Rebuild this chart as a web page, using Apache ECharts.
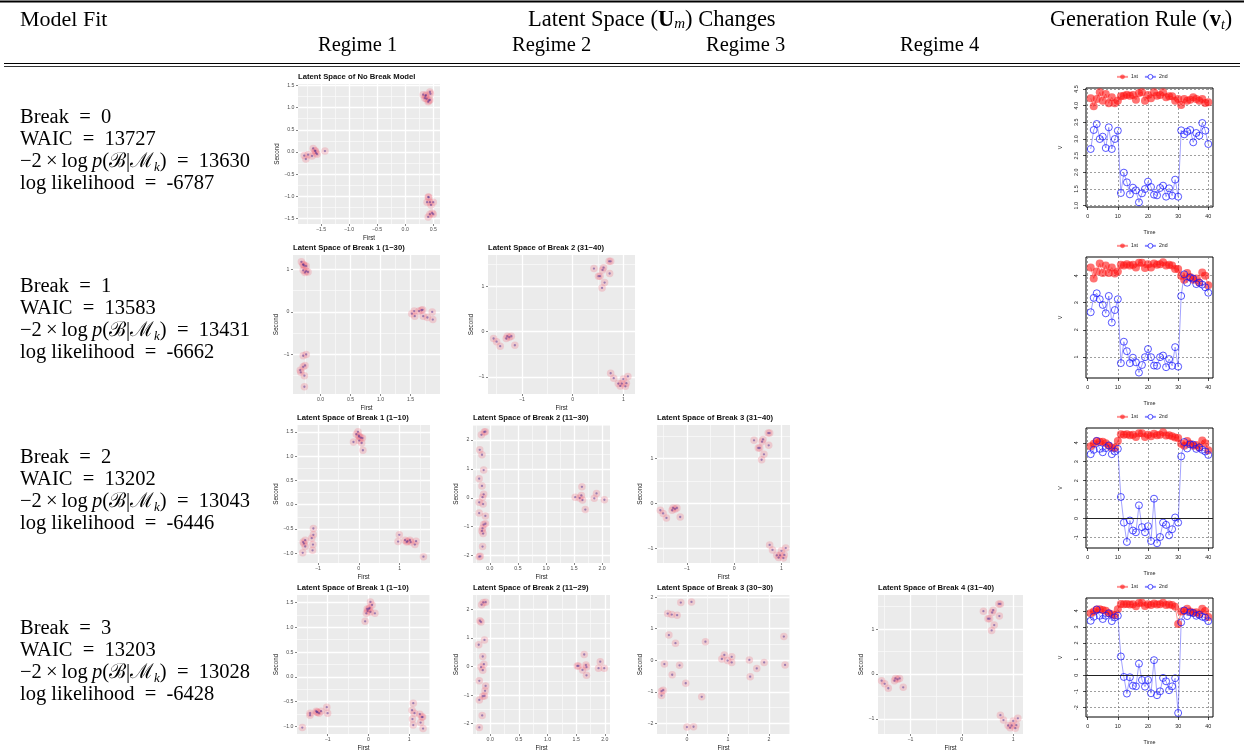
<!DOCTYPE html>
<html><head><meta charset="utf-8">
<script src="https://cdn.jsdelivr.net/npm/echarts@6/dist/echarts.min.js"></script>
<style>html,body{margin:0;padding:0;background:#fff}#c{width:1244px;height:752px}</style>
</head><body><div id="c"></div>
<script>
// ================= DATA =================
const time = [1,2,3,4,5,6,7,8,9,10,11,12,13,14,15,16,17,18,19,20,21,22,23,24,25,26,27,28,29,30,31,32,33,34,35,36,37,38,39,40];

// Generation rule (v_t), one pair of series per model
const rule0_first  = [4.22,3.98,4.2,4.4,4.15,4.35,4.07,4.25,4.07,4.15,4.28,4.3,4.33,4.3,4.32,4.18,4.38,4.4,4.15,4.32,4.22,4.4,4.3,4.32,4.4,4.25,4.28,4.28,4.15,4.2,4.02,4.2,4.15,4.18,4.25,4.2,4.15,4.2,4.08,4.1];
const rule0_second = [2.7,3.27,3.45,3.0,3.07,2.73,3.35,2.7,3.0,3.25,1.38,1.99,1.7,1.34,1.54,1.46,1.1,1.37,1.5,1.72,1.56,1.33,1.31,1.53,1.6,1.27,1.52,1.3,1.78,1.27,3.26,3.14,3.22,3.27,2.9,3.18,3.1,3.48,3.25,2.85];
const rule1_first  = [4.3,3.9,4.15,4.45,4.1,4.38,4.1,4.3,4.08,4.15,4.4,4.38,4.42,4.38,4.4,4.3,4.48,4.48,4.28,4.42,4.3,4.45,4.4,4.42,4.5,4.38,4.4,4.38,4.25,4.25,4.0,3.85,4.1,3.95,3.85,3.9,3.75,4.12,4.0,3.65];
const rule1_second = [2.65,3.18,3.35,3.13,2.92,2.61,3.25,2.27,2.73,3.13,0.77,1.56,1.21,0.77,0.97,0.8,0.42,0.7,0.99,1.29,0.99,0.68,0.67,0.99,1.05,0.62,0.92,0.67,1.36,0.64,3.25,4.05,3.74,3.93,3.89,3.69,3.74,3.67,3.57,3.37];
const rule2_first  = [3.82,3.95,4.1,4.05,4.05,3.98,3.85,3.75,3.72,4.1,4.45,4.42,4.45,4.4,4.42,4.3,4.5,4.5,4.3,4.42,4.35,4.48,4.4,4.42,4.55,4.38,4.4,4.35,4.28,4.25,3.95,3.85,4.1,3.95,3.85,3.88,3.75,4.12,3.98,3.6];
const rule2_second = [3.4,3.63,4.1,3.68,3.5,3.72,3.86,3.4,3.54,3.68,1.14,-0.21,-1.23,-0.1,-0.63,-0.72,0.7,-0.45,-0.72,-0.4,-1.18,1.05,-1.3,-0.97,-0.21,-0.33,-0.88,-0.56,0.06,-0.21,3.28,4.04,3.7,3.91,3.9,3.68,3.75,3.63,3.54,3.36];
const rule3_first  = [3.85,3.95,4.08,4.1,4.05,4.0,3.85,3.78,3.72,4.1,4.42,4.4,4.42,4.38,4.4,4.28,4.48,4.5,4.3,4.4,4.35,4.45,4.38,4.4,4.5,4.35,4.38,4.35,4.25,3.18,3.95,3.98,4.12,3.95,3.88,3.9,3.78,4.12,3.98,3.62];
const rule3_second = [3.38,3.63,4.08,3.69,3.49,3.69,3.84,3.36,3.59,3.69,1.17,-0.1,-1.13,-0.12,-0.64,-0.68,0.72,-0.29,-0.7,-0.29,-1.11,0.94,-1.23,-0.99,-0.16,-0.37,-0.92,-0.68,-0.18,-2.33,3.28,4.02,3.67,3.9,3.86,3.69,3.75,3.63,3.57,3.36];

// Latent space positions [First, Second]
const ls_nobreak = [[0.32,1.29],[0.36,1.26],[0.38,1.2],[0.35,1.21],[0.41,1.13],[0.44,1.17],[0.44,1.35],[0.45,1.31],[0.37,1.28],[0.42,1.16],
  [-1.8,-0.08],[-1.77,-0.16],[-1.73,-0.06],[-1.66,-0.09],[-1.64,0.08],[-1.61,0.03],[-1.59,-0.02],[-1.57,-0.05],[-1.6,0.02],[-1.43,0.02],
  [0.41,-1.01],[0.39,-1.13],[0.44,-1.13],[0.46,-1.19],[0.5,-1.13],[0.48,-1.37],[0.44,-1.4],[0.5,-1.4],[0.41,-1.46],[0.42,-1.02]];
const ls_b1_1_30 = [[-0.32,1.18],[-0.29,1.11],[-0.27,1.09],[-0.24,1.08],[-0.29,0.98],[-0.24,0.96],[-0.21,0.94],[-0.26,0.93],[-0.29,1.12],
  [-0.29,-1.03],[-0.24,-1.0],[-0.26,-1.26],[-0.29,-1.29],[-0.34,-1.37],[-0.33,-1.42],[-0.27,-1.5],[-0.27,-1.76],
  [1.52,-0.04],[1.56,0.02],[1.57,-0.1],[1.64,0.02],[1.68,0.04],[1.71,-0.1],[1.78,-0.13],[1.86,0],[1.87,-0.18],[1.7,0.05]];
const ls_31_40 = [[0.42,1.40],[0.51,1.23],[0.54,1.23],[0.59,1.37],[0.61,1.42],[0.72,1.56],[0.75,1.56],[0.73,1.29],[0.63,1.09],[0.58,0.97],
  [-1.56,-0.15],[-1.5,-0.22],[-1.43,-0.32],[-1.31,-0.15],[-1.29,-0.1],[-1.25,-0.12],[-1.21,-0.1],[-1.14,-0.3],
  [0.75,-0.92],[0.81,-1.03],[0.9,-1.15],[0.94,-1.2],[0.97,-1.15],[1.0,-1.05],[1.04,-1.21],[1.06,-1.14],[1.09,-0.99]];
const ls_b2_1_10 = [[-0.13,1.29],[-0.06,1.45],[-0.02,1.5],[0.01,1.4],[0.05,1.38],[0.09,1.37],[0.07,1.27],[0.01,1.32],[0.1,1.12],[0,1.42],
  [-1.37,-0.99],[-1.36,-0.77],[-1.31,-0.73],[-1.31,-0.86],[-1.15,-0.69],[-1.11,-0.49],[-1.11,-0.62],[-1.12,-0.82],[-1.13,-0.94],[-1.34,-0.8],
  [0.96,-0.76],[0.99,-0.62],[1.13,-0.73],[1.17,-0.77],[1.25,-0.73],[1.27,-0.77],[1.37,-0.82],[1.4,-0.75],[1.58,-1.07],[1.19,-0.75]];
const ls_b2_11_30 = [[-0.15,2.18],[-0.1,2.28],[-0.08,2.29],[-0.18,1.66],[-0.14,1.49],[-0.11,0.96],[-0.19,0.66],[-0.14,0.41],[-0.11,0.12],[-0.13,0.02],[-0.19,-0.16],
  [-0.12,-0.22],[-0.19,-0.53],[-0.08,-0.63],[-0.08,-0.9],[-0.11,-0.93],[-0.13,-1.06],[-0.14,-1.15],[-0.12,-1.24],[-0.13,-1.69],[-0.19,-2.04],[-0.17,-2.03],
  [1.52,0.02],[1.6,-0.01],[1.63,0.08],[1.64,0.38],[1.65,-0.08],[1.7,-0.41],[1.86,-0.02],[1.9,0.15],[2.04,-0.07]];
const ls_b3_1_10 = [[0.05,1.51],[0.09,1.45],[-0.03,1.37],[0.01,1.37],[0.03,1.39],[-0.05,1.28],[0.05,1.31],[0.16,1.28],[-0.08,1.12],[-0.02,1.33],
  [-1.62,-1.02],[-1.43,-0.73],[-1.43,-0.77],[-1.28,-0.69],[-1.25,-0.71],[-1.21,-0.73],[-1.16,-0.69],[-1.02,-0.61],[-1.0,-0.73],[-1.26,-0.71],
  [1.1,-0.53],[1.07,-0.67],[1.13,-0.73],[1.08,-0.85],[1.1,-0.97],[1.26,-0.75],[1.31,-0.81],[1.28,-0.92],[1.34,-1.04],[1.33,-0.81]];
const ls_b3_11_29 = [[-0.15,2.16],[-0.12,2.24],[-0.08,2.25],[-0.18,1.6],[-0.16,1.56],[-0.1,0.93],[-0.2,0.76],[-0.13,0.35],[-0.11,0.08],[-0.16,-0.02],
  [-0.13,-0.13],[-0.19,-0.5],[-0.08,-0.68],[-0.09,-0.85],[-0.1,-1.03],[-0.13,-1.04],[-0.19,-1.17],[-0.14,-1.71],[-0.19,-2.13],
  [1.52,0.02],[1.54,0.02],[1.61,-0.12],[1.64,0.42],[1.67,0.05],[1.68,-0.02],[1.68,-0.31],[1.89,-0.06],[1.92,0.17],[1.99,-0.06]];
const ls_b3_30_30 = [[-0.15,1.83],[0.11,1.85],[-0.47,1.48],[-0.37,1.45],[-0.24,1.43],[-0.44,0.8],[-0.28,0.54],[0.45,0.59],[-0.55,-0.12],[-0.18,-0.16],
  [-0.36,-0.46],[-0.03,-0.73],[-0.62,-0.98],[-0.58,-0.95],[-0.62,-1.12],[0.36,-1.16],[0,-2.12],[0.16,-2.11],[0.85,0.04],[0.91,0.17],
  [0.99,-0.01],[1.09,0.11],[1.09,-0.07],[1.52,0.01],[1.54,-0.52],[1.7,-0.26],[1.88,-0.07],[2.36,0.75],[2.39,-0.15]];

// Model fit statistics
const breaks = [0,1,2,3];
const waic = [13727,13583,13202,13203];
const margLik = [13630,13431,13043,13028];
const logLik = [-6787,-6662,-6446,-6428];

// Header labels
const regimeLabels = ['Regime 1','Regime 2','Regime 3','Regime 4'];

// Tick labels
const ticks_nb_x = [-1.5,-1.0,-0.5,0.0,0.5];
const ticks_nb_y = [-1.5,-1.0,-0.5,0.0,0.5,1.0,1.5];
const ticks_b1_x = [0.0,0.5,1.0,1.5];
const ticks_b1_y = [-1,0,1];
const ticks_int3 = [-1,0,1];
const ticks_half_y = [-1.0,-0.5,0.0,0.5,1.0,1.5];
const ticks_half_x = [0.0,0.5,1.0,1.5,2.0];
const ticks_int5 = [-2,-1,0,1,2];
const ticks_30_x = [0,1,2];
const rule_xticks = [0,10,20,30,40];
const rule0_yticks = [1.0,1.5,2.0,2.5,3.0,3.5,4.0,4.5];
const rule1_yticks = [1,2,3,4];
const rule2_yticks = [-1,0,1,2,3,4];
const rule3_yticks = [-2,-1,0,1,2,3,4];

// ================= LAYOUT / STYLE =================
const SERIF = "'Liberation Serif','DejaVu Serif',serif";
const SANS = "'Liberation Sans',Arial,sans-serif";

const panels = [
 {title:'Latent Space of No Break Model', data:ls_nobreak, l:298,t:84,w:142,h:140, xr:[-1.91,0.62], yr:[-1.62,1.53], xt:ticks_nb_x, yt:ticks_nb_y, xd:1, yd:1},
 {title:'Latent Space of Break 1 (1\u221230)', data:ls_b1_1_30, l:293,t:255,w:147,h:139, xr:[-0.46,1.99], yr:[-1.93,1.34], xt:ticks_b1_x, yt:ticks_b1_y, xd:1, yd:0},
 {title:'Latent Space of Break 2 (31\u221240)', data:ls_31_40, l:488,t:255,w:147,h:139, xr:[-1.67,1.23], yr:[-1.38,1.70], xt:ticks_int3, yt:ticks_int3, xd:0, yd:0},
 {title:'Latent Space of Break 1 (1\u221210)', data:ls_b2_1_10, l:297,t:425,w:133,h:138, xr:[-1.51,1.74], yr:[-1.2,1.64], xt:ticks_int3, yt:ticks_half_y, xd:0, yd:1},
 {title:'Latent Space of Break 2 (11\u221230)', data:ls_b2_11_30, l:473,t:425,w:137,h:138, xr:[-0.30,2.14], yr:[-2.26,2.52], xt:ticks_half_x, yt:ticks_int5, xd:1, yd:0},
 {title:'Latent Space of Break 3 (31\u221240)', data:ls_31_40, l:657,t:425,w:133,h:138, xr:[-1.63,1.18], yr:[-1.32,1.74], xt:ticks_int3, yt:ticks_int3, xd:0, yd:0},
 {title:'Latent Space of Break 1 (1\u221210)', data:ls_b3_1_10, l:297,t:595,w:133,h:139, xr:[-1.75,1.51], yr:[-1.15,1.65], xt:ticks_int3, yt:ticks_half_y, xd:0, yd:1},
 {title:'Latent Space of Break 2 (11\u221229)', data:ls_b3_11_29, l:473,t:595,w:137,h:139, xr:[-0.30,2.09], yr:[-2.36,2.5], xt:ticks_half_x, yt:ticks_int5, xd:1, yd:0},
 {title:'Latent Space of Break 3 (30\u221230)', data:ls_b3_30_30, l:657,t:595,w:133,h:139, xr:[-0.73,2.51], yr:[-2.34,2.07], xt:ticks_30_x, yt:ticks_int5, xd:0, yd:0},
 {title:'Latent Space of Break 4 (31\u221240)', data:ls_31_40, l:878,t:595,w:145,h:139, xr:[-1.63,1.19], yr:[-1.34,1.76], xt:ticks_int3, yt:ticks_int3, xd:0, yd:0}
];

const rules = [
 {t:88, h:119, yr:[0.96,4.53], yt:rule0_yticks, yd:1, f:rule0_first, s:rule0_second, zero:false},
 {t:257, h:121, yr:[0.22,4.69], yt:rule1_yticks, yd:0, f:rule1_first, s:rule1_second, zero:false},
 {t:428, h:120, yr:[-1.55,4.78], yt:rule2_yticks, yd:0, f:rule2_first, s:rule2_second, zero:true},
 {t:598, h:119, yr:[-2.58,4.79], yt:rule3_yticks, yd:0, f:rule3_first, s:rule3_second, zero:true}
];

const grids=[], xAxes=[], yAxes=[], series=[], titles=[], legends=[];

function fmtGG(dec){ return v => (v < -1e-9 ? '\u2212' : '') + Math.abs(v).toFixed(dec); }
function fmtR(dec){ return v => (v < -1e-9 ? '-' : '') + Math.abs(v).toFixed(dec); }
function minorsOf(major, lo, hi){
  const step = major[1]-major[0], out=[];
  for (let k=-4; k<major.length+4; k++){
    const v = +(major[0] + step*k + step/2).toFixed(4);
    if (v > lo && v < hi) out.push(v);
  }
  return out;
}

panels.forEach(p => {
  const gi = grids.length;
  grids.push({left:p.l, top:p.t, width:p.w, height:p.h, show:true, backgroundColor:'#EBEBEB', borderWidth:0, containLabel:false});
  const xi = xAxes.length, yi = yAxes.length;
  const common = {gridIndex:gi, type:'value', axisLine:{show:false, onZero:false}};
  xAxes.push(Object.assign({}, common, {min:p.xr[0], max:p.xr[1], position:'bottom',
    axisTick:{show:true, inside:false, length:2, lineStyle:{color:'#333', width:0.6}, customValues:p.xt},
    axisLabel:{customValues:p.xt, formatter:fmtGG(p.xd), fontSize:5.2, color:'#4D4D4D', margin:3.5, fontFamily:SANS},
    splitLine:{show:true, lineStyle:{color:'#FFFFFF', width:1.3}},
    name:'First', nameLocation:'middle', nameGap:11, nameTextStyle:{fontSize:6.3, color:'#222', fontFamily:SANS}}));
  xAxes.push(Object.assign({}, common, {min:p.xr[0], max:p.xr[1], position:'top',
    axisTick:{show:false, customValues:minorsOf(p.xt, p.xr[0], p.xr[1])}, axisLabel:{show:false},
    splitLine:{show:true, lineStyle:{color:'#FBFBFB', width:0.7}}}));
  yAxes.push(Object.assign({}, common, {min:p.yr[0], max:p.yr[1], position:'left',
    axisTick:{show:true, inside:false, length:2, lineStyle:{color:'#333', width:0.6}, customValues:p.yt},
    axisLabel:{customValues:p.yt, formatter:fmtGG(p.yd), fontSize:5.2, color:'#4D4D4D', margin:3.5, fontFamily:SANS},
    splitLine:{show:true, lineStyle:{color:'#FFFFFF', width:1.3}},
    name:'Second', nameLocation:'middle', nameGap:p.yd===1?16:12, nameRotate:90, nameTextStyle:{fontSize:6.3, color:'#222', fontFamily:SANS}}));
  yAxes.push(Object.assign({}, common, {min:p.yr[0], max:p.yr[1], position:'right',
    axisTick:{show:false, customValues:minorsOf(p.yt, p.yr[0], p.yr[1])}, axisLabel:{show:false},
    splitLine:{show:true, lineStyle:{color:'#FBFBFB', width:0.7}}}));
  series.push({type:'scatter', xAxisIndex:xi, yAxisIndex:yi, data:p.data, symbolSize:7.5, silent:true, z:2,
    itemStyle:{color:'rgba(238,105,125,0.33)'}});
  series.push({type:'scatter', xAxisIndex:xi, yAxisIndex:yi, data:p.data, symbolSize:2.3, silent:true, z:3,
    itemStyle:{color:'rgba(70,40,145,0.6)'}});
  titles.push({text:p.title, left:p.l, top:p.t-11, padding:0,
    textStyle:{fontSize:7.7, fontWeight:'bold', color:'#111', fontFamily:SANS}});
});

rules.forEach(r => {
  const gi = grids.length;
  grids.push({left:1086, top:r.t, width:127, height:r.h, show:true, borderColor:'#000', borderWidth:1, backgroundColor:'transparent'});
  const xi = xAxes.length, yi = yAxes.length;
  xAxes.push({gridIndex:gi, type:'value', min:-0.56, max:41.56, position:'bottom', axisLine:{show:false, onZero:false},
    axisTick:{show:true, length:3, lineStyle:{color:'#000', width:0.7}, customValues:rule_xticks},
    axisLabel:{customValues:rule_xticks, fontSize:5.4, color:'#222', margin:7, fontFamily:SANS},
    splitLine:{show:true, lineStyle:{color:'#777', width:0.7, type:[2,2]}},
    name:'Time', nameLocation:'middle', nameGap:23, nameTextStyle:{fontSize:5.4, color:'#222', fontFamily:SANS}});
  yAxes.push({gridIndex:gi, type:'value', min:r.yr[0], max:r.yr[1], position:'left', axisLine:{show:false, onZero:false},
    axisTick:{show:true, length:3, lineStyle:{color:'#000', width:0.7}, customValues:r.yt},
    axisLabel:{customValues:r.yt, formatter:fmtR(r.yd), rotate:90, fontSize:5.4, color:'#222', margin:7, fontFamily:SANS},
    splitLine:{show:true, lineStyle:{color:'#777', width:0.7, type:[2,2]}},
    name:'V', nameLocation:'middle', nameGap:23, nameRotate:90, nameTextStyle:{fontSize:5.4, color:'#222', fontFamily:SANS}});
  series.push({type:'line', name:'1st', xAxisIndex:xi, yAxisIndex:yi, data:time.map((t,i)=>[t, r.f[i]]),
    symbol:'circle', symbolSize:8, silent:true, animation:false,
    itemStyle:{color:'rgba(255,20,20,0.6)'}, lineStyle:{color:'rgba(255,60,60,0.55)', width:1}});
  const s2 = {type:'line', name:'2nd', xAxisIndex:xi, yAxisIndex:yi, data:time.map((t,i)=>[t, r.s[i]]),
    symbol:'circle', symbolSize:7, silent:true, animation:false,
    itemStyle:{color:'rgba(0,0,0,0)', borderColor:'rgba(20,20,255,0.8)', borderWidth:0.9},
    lineStyle:{color:'rgba(60,60,255,0.6)', width:0.8}};
  if (r.zero) s2.markLine = {silent:true, symbol:'none', animation:false, label:{show:false},
    lineStyle:{color:'#222', type:'solid', width:1}, data:[{yAxis:0}]};
  series.push(s2);
  legends.push({top:r.t-14, left:1116, padding:0, itemWidth:11, itemHeight:6, itemGap:6,
    textStyle:{fontSize:5.2, color:'#222', fontFamily:SANS, padding:[0,0,0,-2]},
    data:['1st', {name:'2nd', itemStyle:{color:'#fff', borderColor:'rgba(20,20,255,0.8)', borderWidth:0.9}}], selectedMode:false});
});

// ---- text (header + model fit column) ----
const graphic = [];
graphic.push({type:'line', shape:{x1:0,y1:1.5,x2:1244,y2:1.5}, style:{stroke:'#000', lineWidth:2}, silent:true});
graphic.push({type:'line', shape:{x1:4,y1:63.5,x2:1240,y2:63.5}, style:{stroke:'#000', lineWidth:1.2}, silent:true});
graphic.push({type:'line', shape:{x1:4,y1:66.5,x2:1240,y2:66.5}, style:{stroke:'#000', lineWidth:0.8}, silent:true});

function richFor(fs){
  return {
    i:{fontStyle:'italic', fontSize:fs, fontFamily:SERIF, fill:'#000'},
    b:{fontWeight:'bold', fontSize:fs, fontFamily:SERIF, fill:'#000'},
    s:{fontStyle:'italic', fontSize:Math.round(fs*0.65), fontFamily:SERIF, fill:'#000', verticalAlign:'bottom', lineHeight:12}
  };
}
function txt(x, y, text, fs){
  fs = fs || 20.5;
  graphic.push({type:'text', x:x, y:y, silent:true,
    style:{text:text, fontSize:fs, fontFamily:SERIF, fill:'#000', verticalAlign:'middle', align:'left', lineHeight:24, rich:richFor(fs)}});
}
txt(20, 20, 'Model Fit', 22);
txt(528, 20, 'Latent Space ({b|U}{s|m}) Changes', 22.5);
txt(1050, 20, 'Generation Rule ({b|v}{s|t})', 22.3);
const regimeX = [318, 512, 706, 900];
regimeLabels.forEach((lab, i) => txt(regimeX[i], 46, lab));

const rowY = [118, 287, 458, 629];
breaks.forEach((b, i) => {
  const y = rowY[i];
  txt(20, y, 'Break\u2002=\u2002' + b);
  txt(20, y+22, 'WAIC\u2002=\u2002' + waic[i]);
  txt(20, y+44, '\u22122\u2009\u00d7\u2009log\u2009{i|p}(\u212C|\u2133{s|k})\u2002=\u2002' + margLik[i]);
  txt(20, y+66, 'log likelihood\u2002=\u2002' + logLik[i]);
});

const chart = echarts.init(document.getElementById('c'), null, {renderer:'canvas'});
chart.setOption({
  animation:false,
  backgroundColor:'#fff',
  title:titles, legend:legends, grid:grids, xAxis:xAxes, yAxis:yAxes, series:series, graphic:graphic
});
</script></body></html>
